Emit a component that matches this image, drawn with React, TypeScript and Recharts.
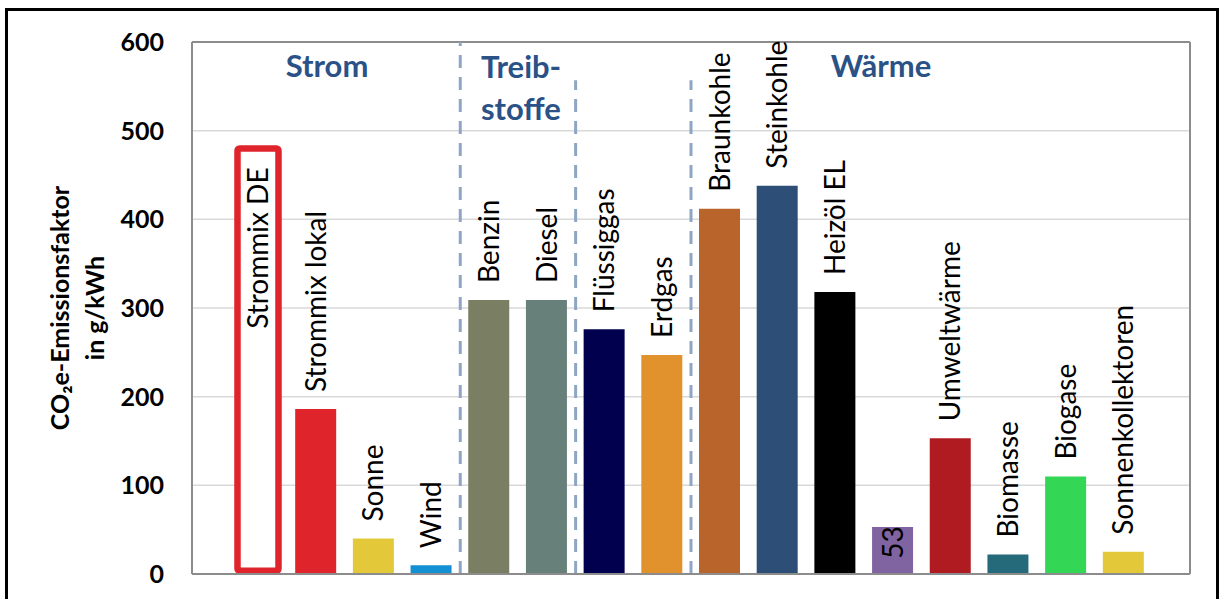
import { BarChart, Bar, XAxis, YAxis, CartesianGrid, Cell, LabelList, ReferenceLine, Rectangle } from 'recharts';

// Emission factors per energy carrier (g CO2e per kWh)
const categories = [
  'Strommix DE', 'Strommix lokal', 'Sonne', 'Wind',
  'Benzin', 'Diesel',
  'Flüssiggas', 'Erdgas', 'Braunkohle', 'Steinkohle', 'Heizöl EL', '',
  'Umweltwärme', 'Biomasse', 'Biogase', 'Sonnenkollektoren',
];
const values = [480, 186, 40, 10, 309, 309, 276, 247, 412, 438, 318, 53, 153, 22, 110, 25];
const colors = [
  '#ffffff', '#e0242b', '#e3c93a', '#138fd3',
  '#7a7e62', '#67807a',
  '#00004f', '#e2922c', '#b8642a', '#2d4e76', '#000000', '#8064a2',
  '#b01b22', '#256a7a', '#33d655', '#e3c93a',
];
const yTicks = [0, 100, 200, 300, 400, 500, 600];

// group separators: position between bars, top of the dashed line
const separators = [
  { x: 3.5, top: 600 },
  { x: 5.5, top: 557 },
  { x: 7.5, top: 557 },
];

const data = categories.map((name, i) => ({ idx: i, name, value: values[i] }));

const FONT = 'Lato, "Open Sans", sans-serif';
const HEAD = '#2a5287';
const OUTLINE = 6.5;

// first bar is drawn as an outline only, kept above the axis line
const BarShape = (props: any) => {
  const { x, y, width, height, index, fill } = props;
  if (index === 0) {
    return (
      <rect
        x={x}
        y={y}
        width={width}
        height={height - OUTLINE / 2}
        rx={2}
        fill="#fff"
        stroke="#e0242b"
        strokeWidth={OUTLINE}
      />
    );
  }
  return <Rectangle x={x} y={y} width={width} height={height} fill={fill} />;
};

const BarLabel = (props: any) => {
  const { x, y, width, height, index } = props;
  const cx = x + width / 2;
  const name = categories[index];
  let ty = y - 17;
  let anchor = 'start';
  let text: string = name;
  if (index === 0) {
    ty = y + 19;
    anchor = 'end';
  } else if (!name) {
    ty = y + height / 2 - 8;
    anchor = 'middle';
    text = String(values[index]);
  }
  return (
    <text
      x={cx}
      y={ty}
      dy="0.36em"
      textAnchor={anchor}
      transform={`rotate(-90, ${cx}, ${ty})`}
      fontSize={28}
      fontFamily={FONT}
      fill="#000"
    >
      {text}
    </text>
  );
};

export default function App() {
  return (
    <div style={{ position: 'absolute', left: 0, top: 0, width: 1219, height: 599, overflow: 'hidden', background: '#fff', fontFamily: FONT }}>
      <div style={{ position: 'absolute', left: 5, top: 8, width: 1214, height: 700, border: '3px solid #000', boxSizing: 'border-box' }} />
      <BarChart
        width={1219}
        height={599}
        data={data}
        margin={{ top: 42, right: 29, left: 112, bottom: 0 }}
        style={{ position: 'absolute', left: 0, top: 0 }}
      >
        <CartesianGrid horizontal vertical={false} stroke="#d9d9d9" strokeWidth={1.5} />
        <XAxis
          type="number"
          dataKey="idx"
          domain={[-1.15, 16.15]}
          allowDataOverflow
          tick={false}
          tickLine={false}
          height={25}
          axisLine={{ stroke: '#8c8c8c', strokeWidth: 2 }}
        />
        <YAxis
          domain={[0, 600]}
          ticks={yTicks}
          width={80}
          tickSize={0}
          tickMargin={28}
          axisLine={{ stroke: '#8c8c8c', strokeWidth: 2 }}
          tick={{ fontSize: 25, fontWeight: 700, fill: '#000', fontFamily: FONT }}
        />
        <ReferenceLine y={600} stroke="#8c8c8c" strokeWidth={2} />
        <ReferenceLine x={16.15} stroke="#8c8c8c" strokeWidth={2} ifOverflow="extendDomain" />
        {separators.map((s) => (
          <ReferenceLine
            key={s.x}
            segment={[{ x: s.x, y: 0 }, { x: s.x, y: s.top }]}
            stroke="#8ea6c4"
            strokeWidth={3}
            strokeDasharray="13 9"
          />
        ))}
        <Bar dataKey="value" barSize={41} isAnimationActive={false} shape={BarShape}>
          {data.map((d, i) => (
            <Cell key={d.idx} fill={colors[i]} />
          ))}
          <LabelList dataKey="name" content={BarLabel} />
        </Bar>
      </BarChart>

      <div style={{ position: 'absolute', left: 77, top: 308, transform: 'translate(-50%, -50%) rotate(-90deg)', whiteSpace: 'nowrap', textAlign: 'center', fontSize: 25, fontWeight: 700, lineHeight: '35px', color: '#000' }}>
        CO₂e-Emissionsfaktor<br />in g/kWh
      </div>

      <div style={{ position: 'absolute', left: 327, top: 45, transform: 'translateX(-50%)', fontSize: 31, fontWeight: 700, color: HEAD, lineHeight: '40px' }}>Strom</div>
      <div style={{ position: 'absolute', left: 481, top: 45, fontSize: 31, fontWeight: 700, color: HEAD, lineHeight: '42px' }}>Treib-<br />stoffe</div>
      <div style={{ position: 'absolute', left: 881, top: 45, transform: 'translateX(-50%)', fontSize: 31, fontWeight: 700, color: HEAD, lineHeight: '40px' }}>Wärme</div>
    </div>
  );
}
